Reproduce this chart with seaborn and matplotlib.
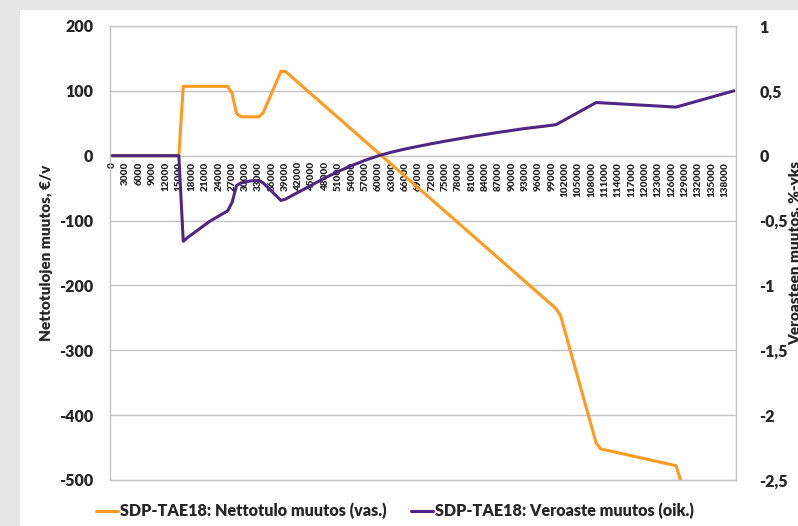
import numpy as np
import pandas as pd
import seaborn as sns
import matplotlib.pyplot as plt
from matplotlib.lines import Line2D
from matplotlib.patches import Rectangle

# Tulotaso (1000 €/v) ja muutokset, luettu kuvasta
netto_tulo = [0, 15, 16, 26, 27, 28, 29, 33, 34, 38, 39, 100, 101, 109, 110, 127, 128, 140]
netto_muutos = [0, 0, 107, 107, 96, 65, 60, 60, 66, 130, 130, -236, -247, -443, -452, -478, -500, -790]

vero_tulo = [0, 15, 16, 17, 18, 20, 22, 24, 26, 27, 28, 29, 31, 33, 34, 38, 39, 42, 45, 48, 51,
             54, 57, 60, 63, 66, 69, 72, 75, 78, 81, 84, 87, 90, 93, 96, 99, 100, 109, 127, 140]
vero_muutos = [0, 0, -0.66, -0.63, -0.605, -0.555, -0.505, -0.465, -0.425, -0.36, -0.23, -0.21,
               -0.195, -0.19, -0.21, -0.345, -0.335, -0.28, -0.225, -0.17, -0.12, -0.075, -0.035,
               0.0, 0.028, 0.052, 0.073, 0.093, 0.112, 0.13, 0.148, 0.164, 0.18, 0.195, 0.21,
               0.222, 0.235, 0.24, 0.41, 0.375, 0.50]

x_ticks = list(range(0, 139000, 3000))
left_ticks = [200, 100, 0, -100, -200, -300, -400, -500]
right_ticks = [1, 0.5, 0, -0.5, -1, -1.5, -2, -2.5]
right_labels = ["1", "0,5", "0", "-0,5", "-1", "-1,5", "-2", "-2,5"]

label_netto = "SDP-TAE18: Nettotulo muutos (vas.)"
label_vero = "SDP-TAE18: Veroaste muutos (oik.)"

ORANGE = "#FF9A1E"
PURPLE = "#4F2683"
GRID = "#C4C4C4"
W = "heavy"

sns.set_style("white")
plt.rcParams["font.family"] = ["Lato", "DejaVu Sans"]
plt.rcParams["font.weight"] = "bold"
plt.rcParams["axes.unicode_minus"] = False

df_netto = pd.DataFrame({"tulo": np.array(netto_tulo) * 1000, "muutos": netto_muutos})
df_vero = pd.DataFrame({"tulo": np.array(vero_tulo) * 1000, "muutos": vero_muutos})

fig = plt.figure(figsize=(7.98, 5.26), dpi=100, facecolor="#E6E6E6")
fig.patches.append(Rectangle((20 / 798, 0), 1, 1 - 10 / 526, transform=fig.transFigure,
                             facecolor="white", edgecolor="none", zorder=-1))

ax = fig.add_axes([110 / 798, 46 / 526, 626 / 798, 454 / 526])
ax.set_facecolor("white")
sns.lineplot(data=df_netto, x="tulo", y="muutos", ax=ax, color=ORANGE, linewidth=2.2)
ax.set_xlim(-500, 140500)
ax.set_ylim(-500, 200)
ax.set_yticks(left_ticks)
ax.set_yticklabels([str(v) for v in left_ticks], fontsize=11.5, fontweight=W)
ax.tick_params(axis="y", length=0, pad=12)
ax.set_xticks(x_ticks)
ax.set_xticklabels([str(v) for v in x_ticks], rotation=90, fontsize=7.2, fontweight=W)
# tick labels hang from the zero line, inside the plot area
ax.tick_params(axis="x", length=0, pad=-229)
ax.yaxis.grid(True, color=GRID, linewidth=1)
ax.xaxis.grid(False)
for s in ax.spines.values():
    s.set_color(GRID)
    s.set_linewidth(1)
ax.set_xlabel("")
ax.set_ylabel("Nettotulojen muutos, €/v", fontsize=11, fontweight=W)
ax.yaxis.set_label_coords(-0.091, 0.5)

ax2 = ax.twinx()
sns.lineplot(data=df_vero, x="tulo", y="muutos", ax=ax2, color=PURPLE, linewidth=2.2)
ax2.set_ylim(-2.5, 1)
ax2.set_yticks(right_ticks)
ax2.set_yticklabels(right_labels, fontsize=11.5, fontweight=W)
ax2.tick_params(axis="y", length=0, pad=17)
for s in ax2.spines.values():
    s.set_visible(False)
ax2.set_xlabel("")
ax2.set_ylabel("Veroasteen muutos, %-yks", fontsize=11, fontweight=W)
ax2.yaxis.set_label_coords(1.0847, 0.5)

handles = [Line2D([], [], color=ORANGE, lw=2.2), Line2D([], [], color=PURPLE, lw=2.2)]
fig.legend(handles, [label_netto, label_vero], loc="center", bbox_to_anchor=(0.495, 0.0285),
           ncol=2, frameon=False, handlelength=1.35, handletextpad=0.12, columnspacing=1.55,
           prop={"size": 11.6, "weight": W})

fig.savefig("out.png", dpi=100, facecolor=fig.get_facecolor())
